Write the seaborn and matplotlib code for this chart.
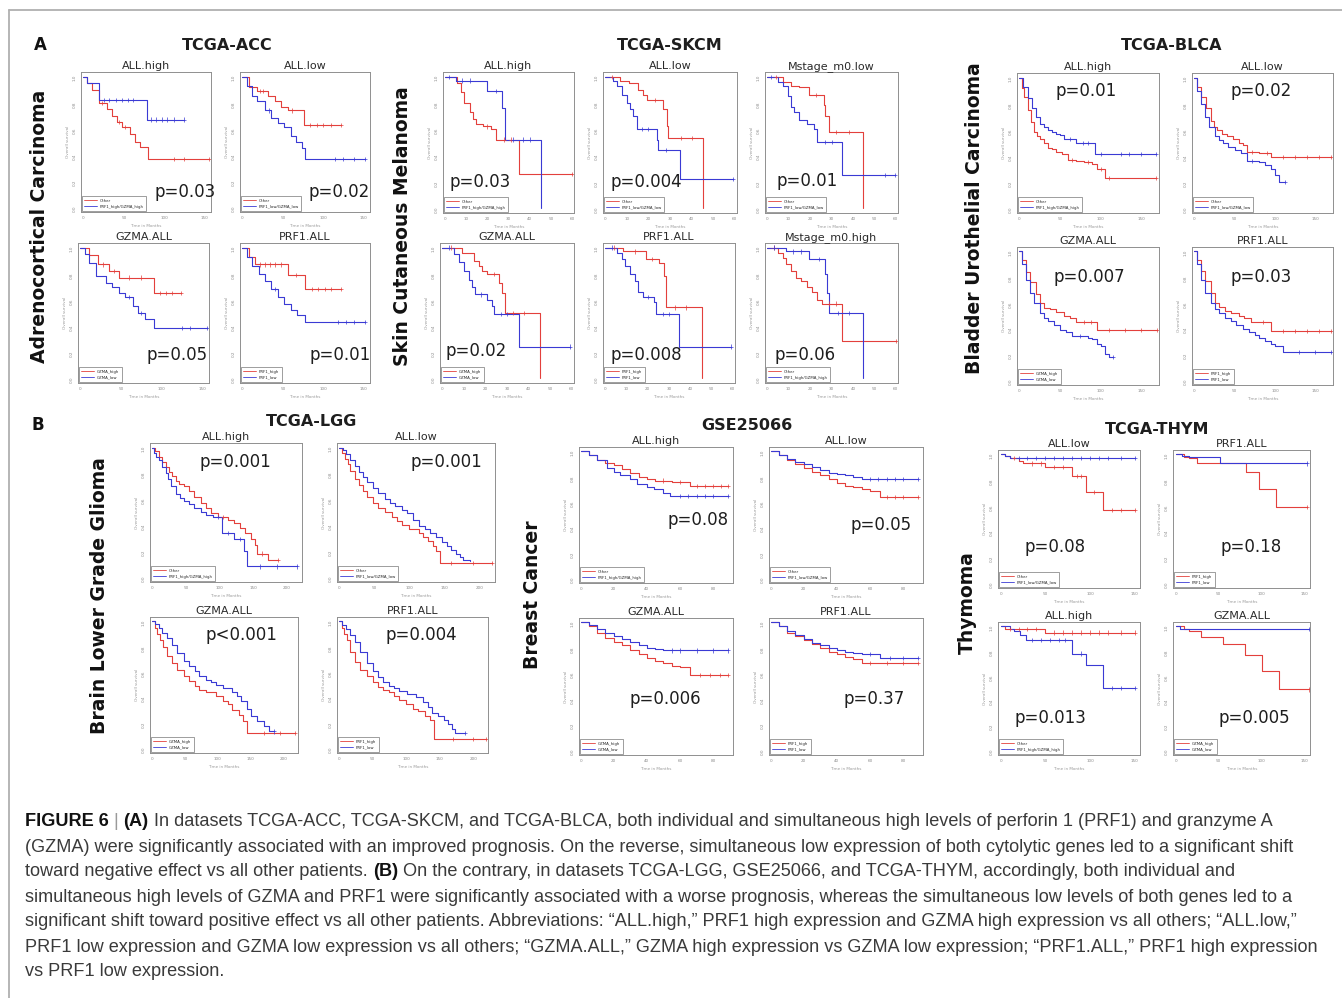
# %%
import numpy as np
import pandas as pd
import matplotlib
matplotlib.use('Agg')
import matplotlib.pyplot as plt
from matplotlib.lines import Line2D
from matplotlib import font_manager
import seaborn as sns

# %%
# Kaplan-Meier curves: (months, survival)
# a point with the same survival as the one before it is a censored case

# TCGA-ACC
acc_high_red = [(0, 1), (5, .95), (11, .90), (19, .80), (23, .80), (29, .75), (35, .70), (41, .65), (44, .65), (48, .61),
                (52, .61), (58, .56), (64, .50), (70, .46), (80, .37), (112, .37), (125, .37), (156, .37)]
acc_high_blue = [(0, 1), (5, .95), (19, .82), (25, .82), (32, .82), (40, .82), (48, .82), (55, .82), (62, .82), (79, .67),
                 (84, .67), (90, .67), (97, .67), (104, .67), (112, .67), (124, .67)]
acc_low_red = [(0, 1), (8, .92), (18, .89), (22, .89), (26, .89), (32, .85), (40, .81), (48, .77), (57, .74), (62, .74),
               (76, .63), (84, .63), (92, .63), (100, .63), (110, .63), (122, .63)]
acc_low_blue = [(0, 1), (6, .93), (12, .85), (18, .81), (28, .74), (33, .74), (36, .68), (44, .64), (52, .61), (60, .54),
                (66, .50), (74, .45), (78, .37), (115, .37), (125, .37), (138, .37), (152, .37)]
acc_gzma_red = [(0, 1), (11, .94), (21, .87), (28, .87), (35, .82), (41, .82), (47, .77), (60, .77), (75, .77), (91, .65),
                (98, .65), (105, .65), (112, .65), (123, .65)]
acc_gzma_blue = [(0, 1), (5, .95), (11, .88), (19, .78), (31, .73), (39, .70), (47, .65), (55, .62), (60, .62), (65, .55),
                 (71, .50), (75, .50), (79, .45), (91, .38), (125, .38), (135, .38), (155, .38)]
acc_prf1_red = [(0, 1), (8, .93), (16, .87), (22, .87), (28, .87), (34, .87), (40, .87), (48, .87), (56, .79), (66, .79),
                (78, .68), (86, .68), (94, .68), (102, .68), (110, .68), (122, .68)]
acc_prf1_blue = [(0, 1), (6, .93), (12, .86), (20, .80), (28, .74), (36, .68), (40, .68), (44, .62), (52, .57), (60, .52),
                 (68, .48), (78, .43), (118, .43), (128, .43), (138, .43), (152, .43)]

# TCGA-SKCM
skcm_high_red = [(0, 1), (5.4, .95), (7.7, .88), (9, .80), (11.6, .73), (13, .68), (14.7, .64), (17.8, .62), (20, .62),
                 (21.6, .60), (24, .52), (28, .52), (31, .52), (34.8, .26), (60, .26)]
skcm_high_blue = [(0, 1), (2, 1), (5, .97), (8, .97), (12, .97), (20, .89), (24, .89), (27, .76), (28.5, .52), (32, .52),
                  (37, .52), (40, .52), (45.6, 0)]
skcm_low_red = [(0, 1), (3, 1), (7, .97), (10.8, .95), (15.4, .90), (17.7, .86), (19.2, .82), (23, .82), (26.9, .75),
                (28.5, .62), (29.2, .53), (35, .53), (40, .53), (45.4, 0)]
skcm_low_blue = [(0, 1), (3.8, .97), (5.4, .93), (7.7, .86), (10, .80), (11.5, .75), (13, .70), (14.6, .60), (17, .60),
                 (20, .60), (23.8, .52), (24.6, .44), (28, .44), (34.6, .22), (59.2, .22)]
skcm_m0low_red = [(0, 1), (4, 1), (7.2, .96), (11, .93), (15, .92), (19.5, .86), (23, .86), (26.5, .78), (27.2, .70),
                  (28.8, .58), (32, .58), (38, .58), (44.9, 0)]
skcm_m0low_blue = [(0, 1), (2, 1), (4.9, .96), (7.2, .93), (9.5, .85), (11, .77), (12.6, .73), (15, .67), (18.8, .64),
                   (21.8, .60), (23.4, .50), (27, .50), (30, .50), (34.9, .25), (55, .25), (59.5, .25)]
skcm_gzma_red = [(0, 1), (4, 1), (9.2, .96), (14.6, .90), (16.9, .86), (18.5, .82), (20.8, .80), (24, .80), (26.2, .73),
                 (27.7, .65), (29.2, .50), (33, .50), (38, .50), (45.4, 0)]
skcm_gzma_blue = [(0, 1), (3, 1), (5.4, .95), (7.7, .89), (10, .82), (12.3, .75), (13.8, .70), (15.4, .64), (18, .64),
                  (20.8, .60), (23, .55), (23.8, .49), (27, .49), (30, .49), (35.4, .24), (59.2, .24)]
skcm_prf1_red = [(0, 1), (4, 1), (8.5, .97), (14, .97), (19.2, .91), (22, .91), (25.4, .88), (27.7, .78), (28.5, .54),
                 (33, .54), (38, .54), (45.4, 0)]
skcm_prf1_blue = [(0, 1), (3, 1), (5.4, .96), (7.7, .91), (9.2, .86), (11.5, .80), (13.8, .74), (15.4, .66), (17.7, .62),
                  (20, .62), (23, .58), (23.8, .49), (27, .49), (30, .49), (34.6, .24), (59.2, .24)]
skcm_m0high_red = [(0, 1), (3, 1), (4.9, .96), (7.2, .92), (8.8, .87), (11, .82), (13.4, .77), (15.7, .74), (18.8, .70),
                   (21, .66), (23.4, .60), (25.7, .57), (29, .57), (32, .57), (34.9, .28), (60.3, .28)]
skcm_m0high_blue = [(0, 1), (3, 1), (8.8, .97), (12, .97), (16, .97), (19.5, .91), (24, .91), (27.2, .80), (28, .65),
                    (28.8, .50), (33, .50), (38, .50), (44.9, 0)]

# TCGA-BLCA
blca_high_red = [(0, 1), (3, .92), (6, .85), (10, .75), (14, .66), (18, .58), (22, .55), (25, .53), (30, .50), (35, .46),
                 (40, .45), (45, .43), (52, .41), (60, .37), (65, .37), (70, .36), (80, .35), (85, .35), (90, .34),
                 (95, .30), (100, .30), (105, .23), (110, .23), (168, .23)]
blca_high_blue = [(0, 1), (5, .93), (10, .84), (15, .77), (20, .70), (25, .64), (30, .62), (35, .60), (40, .58), (45, .57),
                  (50, .56), (55, .53), (62, .53), (70, .50), (78, .50), (85, .50), (93, .41), (100, .41), (125, .41),
                  (135, .41), (150, .41), (168, .41)]
blca_low_red = [(0, 1), (3, .93), (8, .85), (14, .77), (20, .67), (24, .62), (28, .60), (34, .57), (40, .55), (48, .53),
                (55, .50), (60, .48), (65, .43), (72, .43), (80, .42), (90, .42), (95, .39), (110, .39), (125, .39),
                (140, .39), (155, .39), (170, .39)]
blca_low_blue = [(0, 1), (3, .90), (8, .80), (13, .70), (18, .62), (25, .55), (30, .52), (35, .50), (42, .47), (50, .44),
                 (58, .42), (65, .36), (72, .36), (80, .35), (88, .33), (95, .30), (100, .25), (105, .20), (112, .20)]
blca_gzma_red = [(0, 1), (3, .93), (8, .84), (13, .76), (20, .67), (25, .60), (30, .56), (38, .55), (45, .53), (55, .50),
                 (62, .48), (70, .45), (80, .45), (88, .45), (95, .39), (110, .39), (130, .39), (150, .39), (170, .39)]
blca_gzma_blue = [(0, 1), (3, .90), (8, .78), (13, .68), (18, .60), (25, .52), (30, .48), (35, .46), (42, .43), (50, .39),
                  (58, .37), (65, .34), (75, .34), (85, .33), (90, .32), (95, .28), (100, .26), (105, .20), (110, .18),
                  (115, .18)]
blca_prf1_red = [(0, 1), (3, .93), (8, .85), (13, .77), (20, .68), (25, .60), (30, .57), (38, .54), (45, .52), (55, .50),
                 (62, .48), (70, .45), (85, .45), (95, .38), (110, .38), (125, .38), (140, .38), (155, .38), (170, .38)]
blca_prf1_blue = [(0, 1), (3, .90), (8, .78), (13, .68), (20, .60), (25, .55), (30, .52), (38, .48), (45, .46), (52, .43),
                  (60, .40), (68, .37), (75, .35), (80, .33), (88, .30), (95, .28), (100, .26), (110, .22), (130, .22),
                  (150, .22), (170, .22)]

# TCGA-LGG
lgg_high_red = [(0, 1), (5, .97), (10, .93), (15, .89), (20, .85), (25, .81), (30, .78), (35, .74), (40, .72), (48, .70),
                (55, .66), (62, .62), (72, .57), (80, .53), (88, .49), (97, .46), (105, .46), (112, .44), (122, .42),
                (130, .38), (138, .34), (146, .29), (152, .25), (156, .18), (163, .18), (171, .13), (186, .13)]
lgg_high_blue = [(0, 1), (3, .96), (6, .93), (10, .90), (15, .85), (20, .80), (23, .76), (28, .70), (35, .64), (42, .61),
                 (48, .59), (55, .56), (62, .53), (72, .50), (80, .48), (90, .46), (97, .46), (104, .34), (112, .34),
                 (122, .29), (130, .29), (136, .20), (141, .08), (160, .08), (185, .08), (215, .08)]
lgg_low_red = [(0, 1), (4, .96), (8, .91), (12, .87), (16, .82), (22, .76), (28, .71), (34, .66), (40, .62), (48, .57),
               (56, .53), (65, .50), (75, .46), (82, .43), (89, .40), (100, .37), (114, .34), (120, .31), (127, .28),
               (133, .24), (138, .20), (143, .11), (160, .11), (190, .11), (218, .11)]
lgg_low_blue = [(0, 1), (5, .98), (10, .95), (16, .90), (22, .86), (28, .81), (34, .77), (40, .73), (48, .69), (56, .65),
                (65, .60), (72, .57), (80, .55), (89, .52), (96, .49), (105, .44), (114, .39), (122, .37), (130, .34),
                (138, .31), (146, .27), (153, .24), (160, .21), (167, .18), (172, .15), (177, .13), (187, .12)]
lgg_gzma_red = [(0, 1), (4, .95), (8, .90), (12, .85), (17, .80), (23, .73), (30, .67), (38, .62), (48, .57), (56, .53),
                (65, .49), (72, .46), (82, .44), (97, .41), (108, .37), (115, .35), (122, .30), (132, .26), (139, .21),
                (144, .12), (170, .12), (195, .12), (218, .12)]
lgg_gzma_blue = [(0, 1), (5, .98), (10, .95), (16, .91), (23, .87), (30, .81), (38, .75), (48, .69), (56, .65), (65, .61),
                 (72, .57), (82, .54), (90, .52), (97, .50), (108, .47), (122, .44), (130, .41), (136, .37), (144, .31),
                 (151, .25), (160, .21), (171, .17), (178, .13), (186, .13)]
lgg_prf1_red = [(0, 1), (4, .95), (8, .90), (12, .85), (17, .76), (24, .68), (32, .62), (41, .57), (50, .52), (58, .48),
                (66, .46), (75, .44), (82, .41), (90, .38), (100, .35), (110, .31), (118, .29), (128, .25), (136, .22),
                (141, .07), (170, .07), (200, .07), (219, .07)]
lgg_prf1_blue = [(0, 1), (5, .97), (10, .94), (17, .89), (24, .84), (32, .76), (41, .67), (50, .61), (58, .56), (66, .52),
                 (75, .49), (82, .47), (90, .45), (102, .43), (115, .40), (125, .36), (132, .32), (139, .28), (148, .25),
                 (156, .22), (163, .19), (168, .15), (173, .12), (188, .12)]

# GSE25066
gse_high_red = [(0, 1), (5, .97), (10, .93), (15, .91), (20, .89), (25, .86), (30, .83), (35, .80), (40, .78), (45, .77),
                (50, .77), (55, .76), (60, .76), (66, .73), (70, .73), (75, .73), (80, .73), (85, .73), (89, .73)]
gse_high_blue = [(0, 1), (5, .97), (10, .93), (16, .87), (20, .84), (24, .81), (30, .78), (34, .74), (40, .72), (44, .70),
                 (50, .67), (54, .65), (60, .65), (65, .65), (70, .65), (75, .65), (80, .65), (89, .65)]
gse_low_red = [(0, 1), (5, .97), (10, .93), (15, .90), (20, .87), (25, .84), (30, .81), (35, .78), (40, .75), (45, .73),
               (50, .72), (55, .70), (60, .69), (66, .64), (70, .64), (75, .64), (80, .64), (89, .64)]
gse_low_blue = [(0, 1), (5, .97), (10, .94), (15, .92), (20, .90), (25, .88), (30, .85), (35, .83), (40, .82), (45, .81),
                (50, .80), (55, .78), (60, .78), (65, .78), (70, .78), (75, .78), (80, .78), (89, .78)]
gse_gzma_red = [(0, 1), (5, .97), (10, .92), (15, .88), (20, .85), (25, .82), (30, .78), (35, .75), (40, .72), (45, .70),
                (50, .68), (55, .66), (60, .65), (66, .59), (72, .59), (78, .59), (84, .59), (89, .59)]
gse_gzma_blue = [(0, 1), (5, .98), (10, .95), (15, .92), (20, .89), (25, .87), (30, .85), (35, .82), (40, .80), (45, .79),
                 (50, .78), (55, .78), (60, .78), (70, .78), (80, .78), (89, .78)]
gse_prf1_red = [(0, 1), (5, .97), (10, .92), (15, .89), (20, .86), (25, .83), (30, .80), (35, .77), (40, .75), (45, .73),
                (50, .71), (55, .68), (60, .68), (70, .68), (80, .68), (89, .68)]
gse_prf1_blue = [(0, 1), (5, .97), (10, .93), (15, .90), (20, .87), (25, .84), (30, .82), (35, .80), (40, .78), (45, .77),
                 (50, .76), (55, .75), (60, .75), (66, .72), (72, .72), (80, .72), (89, .72)]

# TCGA-THYM
thym_low_red = [(0, 1), (5, .99), (10, .97), (15, .97), (20, .95), (25, .93), (35, .93), (45, .93), (50, .90), (60, .90),
                (70, .90), (80, .83), (85, .83), (90, .83), (95, .71), (105, .71), (115, .57), (125, .57), (135, .57),
                (150, .57)]
thym_low_blue = [(0, 1), (5, .99), (10, .97), (20, .97), (30, .97), (40, .97), (50, .97), (60, .97), (70, .97), (80, .97),
                 (90, .97), (100, .97), (110, .97), (120, .97), (135, .97), (150, .97)]
thym_prf1_red = [(0, 1), (10, .98), (15, .97), (25, .93), (82, .86), (97, .73), (117, .59), (152, .59)]
thym_prf1_blue = [(0, 1), (8, .99), (15, .98), (52, .93), (152, .93)]
thym_high_red = [(0, 1), (5, .98), (10, .98), (20, .98), (30, .98), (40, .98), (50, .95), (60, .95), (70, .95), (80, .95),
                 (90, .95), (100, .95), (110, .95), (120, .95), (135, .95), (150, .95)]
thym_high_blue = [(0, 1), (10, .98), (15, .96), (22, .93), (28, .89), (35, .89), (45, .89), (55, .89), (65, .89),
                  (72, .89), (80, .78), (90, .78), (95, .69), (115, .50), (125, .50), (135, .50), (150, .50)]
thym_gzma_red = [(0, 1), (10, .98), (15, .96), (30, .91), (55, .86), (80, .77), (100, .64), (120, .49), (155, .49)]
thym_gzma_blue = [(0, 1), (5, .98), (155, .98)]

p_acc = ['p=0.03', 'p=0.02', 'p=0.05', 'p=0.01']
p_skcm = ['p=0.03', 'p=0.004', 'p=0.01', 'p=0.02', 'p=0.008', 'p=0.06']
p_blca = ['p=0.01', 'p=0.02', 'p=0.007', 'p=0.03']
p_lgg = ['p=0.001', 'p=0.001', 'p<0.001', 'p=0.004']
p_gse = ['p=0.08', 'p=0.05', 'p=0.006', 'p=0.37']
p_thym = ['p=0.08', 'p=0.18', 'p=0.013', 'p=0.005']

LEG_HIGH = ('Other', 'PRF1_high/GZMA_high')
LEG_LOW = ('Other', 'PRF1_low/GZMA_low')
LEG_GZMA = ('GZMA_high', 'GZMA_low')
LEG_PRF1 = ('PRF1_high', 'PRF1_low')

# %%
W, H = 1342, 998
RED = '#e3403c'
BLUE = '#3a3ad4'
TXT = '#1e1e1e'

sns.set_style('white')
plt.rcParams['font.family'] = ['DejaVu Sans']

fig = plt.figure(figsize=(W / 100, H / 100), dpi=100)


def fx(x):
    return x / W


def fy(y):
    return 1 - y / H


# x axis per dataset: limits, ticks
XAX = {
    'acc': ((-3, 158), [0, 50, 100, 150]),
    'skcm': ((-1, 61), [0, 10, 20, 30, 40, 50, 60]),
    'blca': ((-3, 172), [0, 50, 100, 150]),
    'lgg': ((-3, 222), [0, 50, 100, 150, 200]),
    'gse': ((-1, 92), [0, 20, 40, 60, 80]),
    'thym': ((-3, 156), [0, 50, 100, 150]),
}

# panel box in px (left, top, right, bottom), curves, title, legend, p text, p position
panels = [
    ('acc', (81, 72, 211, 212), acc_high_red, acc_high_blue, 'ALL.high', LEG_HIGH, p_acc[0], (0.80, 0.14)),
    ('acc', (240, 72, 370, 212), acc_low_red, acc_low_blue, 'ALL.low', LEG_LOW, p_acc[1], (0.76, 0.14)),
    ('acc', (78, 243, 209, 383), acc_gzma_red, acc_gzma_blue, 'GZMA.ALL', LEG_GZMA, p_acc[2], (0.76, 0.20)),
    ('acc', (240, 243, 370, 383), acc_prf1_red, acc_prf1_blue, 'PRF1.ALL', LEG_PRF1, p_acc[3], (0.77, 0.20)),

    ('skcm', (443, 72, 574, 213), skcm_high_red, skcm_high_blue, 'ALL.high', LEG_HIGH, p_skcm[0], (0.28, 0.22)),
    ('skcm', (603, 72, 737, 213), skcm_low_red, skcm_low_blue, 'ALL.low', LEG_LOW, p_skcm[1], (0.32, 0.22)),
    ('skcm', (765, 72, 898, 213), skcm_m0low_red, skcm_m0low_blue, 'Mstage_m0.low', LEG_LOW, p_skcm[2], (0.32, 0.23)),
    ('skcm', (440, 243, 574, 383), skcm_gzma_red, skcm_gzma_blue, 'GZMA.ALL', LEG_GZMA, p_skcm[3], (0.27, 0.23)),
    ('skcm', (603, 243, 735, 383), skcm_prf1_red, skcm_prf1_blue, 'PRF1.ALL', LEG_PRF1, p_skcm[4], (0.33, 0.20)),
    ('skcm', (765, 243, 898, 383), skcm_m0high_red, skcm_m0high_blue, 'Mstage_m0.high', LEG_HIGH, p_skcm[5], (0.30, 0.20)),

    ('blca', (1017, 73, 1159, 213), blca_high_red, blca_high_blue, 'ALL.high', LEG_HIGH, p_blca[0], (0.49, 0.87)),
    ('blca', (1192, 73, 1333, 213), blca_low_red, blca_low_blue, 'ALL.low', LEG_LOW, p_blca[1], (0.49, 0.87)),
    ('blca', (1017, 247, 1159, 385), blca_gzma_red, blca_gzma_blue, 'GZMA.ALL', LEG_GZMA, p_blca[2], (0.51, 0.78)),
    ('blca', (1192, 247, 1333, 385), blca_prf1_red, blca_prf1_blue, 'PRF1.ALL', LEG_PRF1, p_blca[3], (0.49, 0.78)),

    ('lgg', (150, 443, 302, 582), lgg_high_red, lgg_high_blue, 'ALL.high', LEG_HIGH, p_lgg[0], (0.56, 0.86)),
    ('lgg', (337, 443, 495, 582), lgg_low_red, lgg_low_blue, 'ALL.low', LEG_LOW, p_lgg[1], (0.69, 0.86)),
    ('lgg', (150, 617, 298, 753), lgg_gzma_red, lgg_gzma_blue, 'GZMA.ALL', LEG_GZMA, p_lgg[2], (0.62, 0.87)),
    ('lgg', (337, 617, 488, 753), lgg_prf1_red, lgg_prf1_blue, 'PRF1.ALL', LEG_PRF1, p_lgg[3], (0.56, 0.87)),

    ('gse', (579, 447, 733, 583), gse_high_red, gse_high_blue, 'ALL.high', LEG_HIGH, p_gse[0], (0.77, 0.46)),
    ('gse', (769, 447, 923, 583), gse_low_red, gse_low_blue, 'ALL.low', LEG_LOW, p_gse[1], (0.73, 0.43)),
    ('gse', (579, 618, 733, 755), gse_gzma_red, gse_gzma_blue, 'GZMA.ALL', LEG_GZMA, p_gse[2], (0.56, 0.41)),
    ('gse', (769, 618, 923, 755), gse_prf1_red, gse_prf1_blue, 'PRF1.ALL', LEG_PRF1, p_gse[3], (0.68, 0.41)),

    ('thym', (998, 450, 1140, 588), thym_low_red, thym_low_blue, 'ALL.low', LEG_LOW, p_thym[0], (0.40, 0.30)),
    ('thym', (1173, 450, 1310, 588), thym_prf1_red, thym_prf1_blue, 'PRF1.ALL', LEG_PRF1, p_thym[1], (0.57, 0.30)),
    ('thym', (998, 622, 1140, 755), thym_high_red, thym_high_blue, 'ALL.high', LEG_HIGH, p_thym[2], (0.37, 0.28)),
    ('thym', (1173, 622, 1310, 755), thym_gzma_red, thym_gzma_blue, 'GZMA.ALL', LEG_GZMA, p_thym[3], (0.59, 0.28)),
]


def km_panel(key, box, red, blue, title, legend, ptxt, ppos):
    x0, y0, x1, y1 = box
    ax = fig.add_axes([fx(x0), fy(y1), (x1 - x0) / W, (y1 - y0) / H])
    df = pd.concat([pd.DataFrame(red, columns=['t', 's']).assign(arm='red'),
                    pd.DataFrame(blue, columns=['t', 's']).assign(arm='blue')], ignore_index=True)
    pal = {'red': RED, 'blue': BLUE}
    sns.lineplot(data=df, x='t', y='s', hue='arm', palette=pal, drawstyle='steps-post',
                 estimator=None, sort=False, legend=False, lw=0.8, ax=ax)
    cens = df[df.groupby('arm')['s'].diff() == 0]
    sns.scatterplot(data=cens, x='t', y='s', hue='arm', palette=pal, marker='+', s=9,
                    linewidth=0.5, legend=False, ax=ax, zorder=3)

    xlim, xticks = XAX[key]
    ax.set_xlim(*xlim)
    ax.set_ylim(-0.04, 1.035)
    ax.set_xticks(xticks)
    ax.set_yticks([0, 0.2, 0.4, 0.6, 0.8, 1.0])
    ax.set_yticklabels(['0.0', '0.2', '0.4', '0.6', '0.8', '1.0'])
    ax.tick_params(labelsize=3, length=2, width=0.4, colors='#8a8a8a', pad=1)
    ax.tick_params(axis='y', labelrotation=90)
    for sp in ax.spines.values():
        sp.set_color('#8f8f8f')
        sp.set_linewidth(0.7)
    ax.set_xlabel('Time in Months', fontsize=3, color='#999999', labelpad=3)
    ax.set_ylabel('Overall survival', fontsize=3, color='#999999', labelpad=2)
    ax.set_title(title, fontsize=8, pad=2, color='#2a2a2a')

    handles = [Line2D([], [], color=RED, lw=0.6), Line2D([], [], color=BLUE, lw=0.6)]
    leg = ax.legend(handles, legend, loc='lower left', fontsize=2.8, frameon=True, fancybox=False,
                    edgecolor='#777777', framealpha=1, handlelength=3.2, borderpad=0.6,
                    labelspacing=0.5, borderaxespad=0.25)
    leg.get_frame().set_linewidth(0.5)

    ax.text(ppos[0], ppos[1], ptxt, transform=ax.transAxes, ha='center', va='center',
            fontsize=12, color=TXT)
    return ax


for p in panels:
    km_panel(*p)

# %%
# group titles, row labels, panel letters
groups = [('TCGA-ACC', 227, 45), ('TCGA-SKCM', 670, 45), ('TCGA-BLCA', 1172, 45),
          ('TCGA-LGG', 312, 422), ('GSE25066', 747, 425), ('TCGA-THYM', 1157, 430)]
for name, x, y in groups:
    fig.text(fx(x), fy(y), name, ha='center', va='center', fontsize=11.5, weight='bold', color=TXT)

rows = [('Adrenocortical Carcinoma', 40, 226), ('Skin Cutaneous Melanoma', 403, 226),
        ('Bladder Urothelial Carcinoma', 975, 218), ('Brain Lower Grade Glioma', 100, 596),
        ('Breast Cancer', 532, 595), ('Thymoma', 967, 603)]
for name, x, y in rows:
    fig.text(fx(x), fy(y), name, ha='center', va='center', rotation=90, fontsize=13.5,
             weight='bold', color='#111111')

fig.text(fx(40), fy(45), 'A', ha='center', va='center', fontsize=12, weight='bold', color='#111111')
fig.text(fx(38), fy(425), 'B', ha='center', va='center', fontsize=12, weight='bold', color='#111111')

# page frame
fig.add_artist(Line2D([fx(9), 1], [fy(10), fy(10)], color='#b0b0b0', lw=1.3))
fig.add_artist(Line2D([fx(9), fx(9)], [fy(10), 0], color='#b0b0b0', lw=1.3))

# %%
# caption
names = {f.name for f in font_manager.fontManager.ttflist}
CAP_FONT = 'Liberation Sans Narrow' if 'Liberation Sans Narrow' in names else 'Liberation Sans'

cap_lines = [
    [('FIGURE 6', True), ('|', None), ('(A)', True),
     ('In datasets TCGA-ACC, TCGA-SKCM, and TCGA-BLCA, both individual and simultaneous high levels of perforin 1 (PRF1) and granzyme A', False)],
    [('(GZMA) were significantly associated with an improved prognosis. On the reverse, simultaneous low expression of both cytolytic genes led to a significant shift', False)],
    [('toward negative effect vs all other patients.', False), ('(B)', True),
     ('On the contrary, in datasets TCGA-LGG, GSE25066, and TCGA-THYM, accordingly, both individual and', False)],
    [('simultaneous high levels of GZMA and PRF1 were significantly associated with a worse prognosis, whereas the simultaneous low levels of both genes led to a', False)],
    [('significant shift toward positive effect vs all other patients. Abbreviations: \u201cALL.high,\u201d PRF1 high expression and GZMA high expression vs all others; \u201cALL.low,\u201d', False)],
    [('PRF1 low expression and GZMA low expression vs all others; \u201cGZMA.ALL,\u201d GZMA high expression vs GZMA low expression; \u201cPRF1.ALL,\u201d PRF1 high expression', False)],
    [('vs PRF1 low expression.', False)],
]

renderer = fig.canvas.get_renderer()

# size the caption so the second line spans the width it has in the figure
probe = fig.text(0, 0, cap_lines[1][0][0], fontsize=10, family=CAP_FONT)
w10 = probe.get_window_extent(renderer).width
probe.remove()
CAP_FS = 10 * (1297 - 25) / w10

sp = fig.text(0, 0, 'x x', fontsize=CAP_FS, family=CAP_FONT)
sp2 = fig.text(0, 0, 'xx', fontsize=CAP_FS, family=CAP_FONT)
GAP = sp.get_window_extent(renderer).width - sp2.get_window_extent(renderer).width
sp.remove()
sp2.remove()

y = 822
for line in cap_lines:
    x = 25
    for txt, bold in line:
        t = fig.text(fx(x), fy(y), txt, fontsize=CAP_FS, family=CAP_FONT, va='center', ha='left',
                     weight='bold' if bold else 'normal',
                     color='#9a9a9a' if bold is None else ('#111111' if bold else '#3a3a3a'))
        x = t.get_window_extent(renderer).x1 + GAP
    y += 25

fig.savefig('out.png', dpi=100, facecolor='white')
